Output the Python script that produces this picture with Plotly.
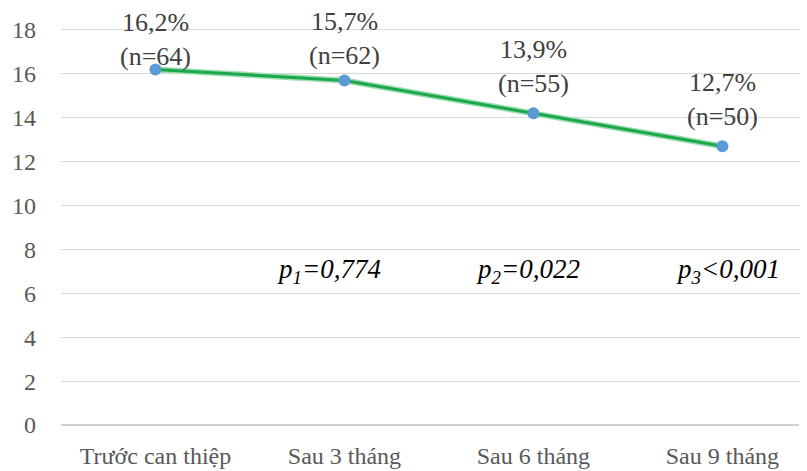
import plotly.graph_objects as go

categories = ["Trước can thiệp", "Sau 3 tháng", "Sau 6 tháng", "Sau 9 tháng"]
values = [16.2, 15.7, 14.2, 12.7]
pct_labels = ["16,2%", "15,7%", "13,9%", "12,7%"]
counts = [64, 62, 55, 50]
p_labels = ["", "<i>p<sub>1</sub>=0,774</i>", "<i>p<sub>2</sub>=0,022</i>", "<i>p<sub>3</sub>&lt;0,001</i>"]
p_level = 7
y_ticks = [0, 2, 4, 6, 8, 10, 12, 14, 16, 18]

FONT = "Liberation Serif"
xs = list(range(len(categories)))

fig = go.Figure()
fig.add_trace(go.Scatter(x=xs, y=values, mode="lines",
                         line=dict(color="#9fdcb4", width=6), hoverinfo="skip", showlegend=False))
fig.add_trace(go.Scatter(x=xs, y=values, mode="lines+markers",
                         line=dict(color="#1aa84a", width=3),
                         marker=dict(color="#5b9bd5", size=12),
                         showlegend=False))

label_shift = [-4, 8, 13, 13]
for i, (v, p, n) in enumerate(zip(values, pct_labels, counts)):
    fig.add_annotation(x=i, y=v, text=f"{p}<br>(n={n})",
                       showarrow=False, yanchor="bottom", yshift=label_shift[i],
                       font=dict(family=FONT, size=26, color="#404040"), align="center")

p_dx = [0, -0.08, -0.03, 0.03]
for i, t in enumerate(p_labels):
    if t:
        fig.add_annotation(x=i + p_dx[i], y=p_level, text=t, showarrow=False,
                           font=dict(family=FONT, size=27, color="#000000"))

fig.update_layout(
    width=807, height=471,
    margin=dict(l=53, r=0, t=0, b=54),
    paper_bgcolor="white", plot_bgcolor="white",
    font=dict(family=FONT),
    xaxis=dict(tickmode="array", tickvals=xs, ticktext=categories,
               range=[-0.5, 3.49], showgrid=False, zeroline=False,
               showline=False, ticks="", ticklabelstandoff=14,
               tickfont=dict(family=FONT, size=24, color="#595959")),
    yaxis=dict(range=[0, 19.0], tickvals=y_ticks, showgrid=True,
               gridcolor="#d9d9d9", gridwidth=1, zeroline=True,
               zerolinecolor="#d0d0d0", zerolinewidth=2, ticks="",
               ticklabelstandoff=24,
               tickfont=dict(family=FONT, size=24, color="#595959")),
)

fig.write_html("out.html")
